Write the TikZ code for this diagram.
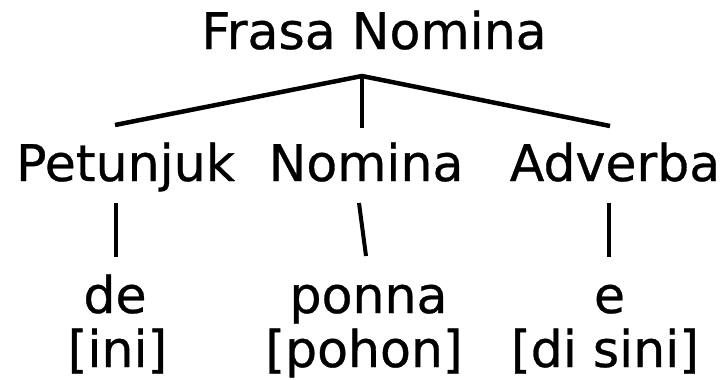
\documentclass[tikz,border=0pt]{standalone}
\usepackage{fontspec}
\setmainfont[FakeBold=0.6]{DejaVu Sans}
\begin{document}
\begin{tikzpicture}[x=1pt,y=-1pt,
  lbl/.style={anchor=base,inner sep=0pt,font=\fontsize{50.5}{60}\selectfont},
  branch/.style={line width=4.5pt},
  stem/.style={line width=4pt}]
\useasboundingbox[fill=white] (0,0) rectangle (728,380);
% labels
\node[lbl] (root) at (374,49) {Frasa Nomina};
\node[lbl] (pet) at (125.5,181) {Petunjuk};
\node[lbl] (nom) at (366,181) {Nomina};
\node[lbl] (adv) at (615,181) {Adverba};
\node[lbl] (de) at (115,313) {de};
\node[lbl] (ponna) at (368.5,313) {ponna};
\node[lbl] (e) at (609.5,313) {e};
\node[lbl] (ini) at (117.5,367) {[ini]};
\node[lbl] (pohon) at (364,367) {[pohon]};
\node[lbl] (disini) at (605,367) {[di sini]};
% connector end points
\coordinate (apex) at (362,76);
\coordinate (petTop) at (115,125);
\coordinate (nomTop) at (362,128);
\coordinate (advTop) at (610,126);
\coordinate (petBot) at (116,203);
\coordinate (deTop) at (116,257);
\coordinate (nomBot) at (359,203);
\coordinate (ponnaTop) at (366,256);
\coordinate (advBot) at (609,203);
\coordinate (eTop) at (609,257);
% tree
\draw[branch] (petTop) -- (apex) -- (advTop);
\draw[branch] (apex) -- (nomTop);
\draw[stem] (petBot) -- (deTop);
\draw[stem] (nomBot) -- (ponnaTop);
\draw[stem] (advBot) -- (eTop);
\end{tikzpicture}
\end{document}
